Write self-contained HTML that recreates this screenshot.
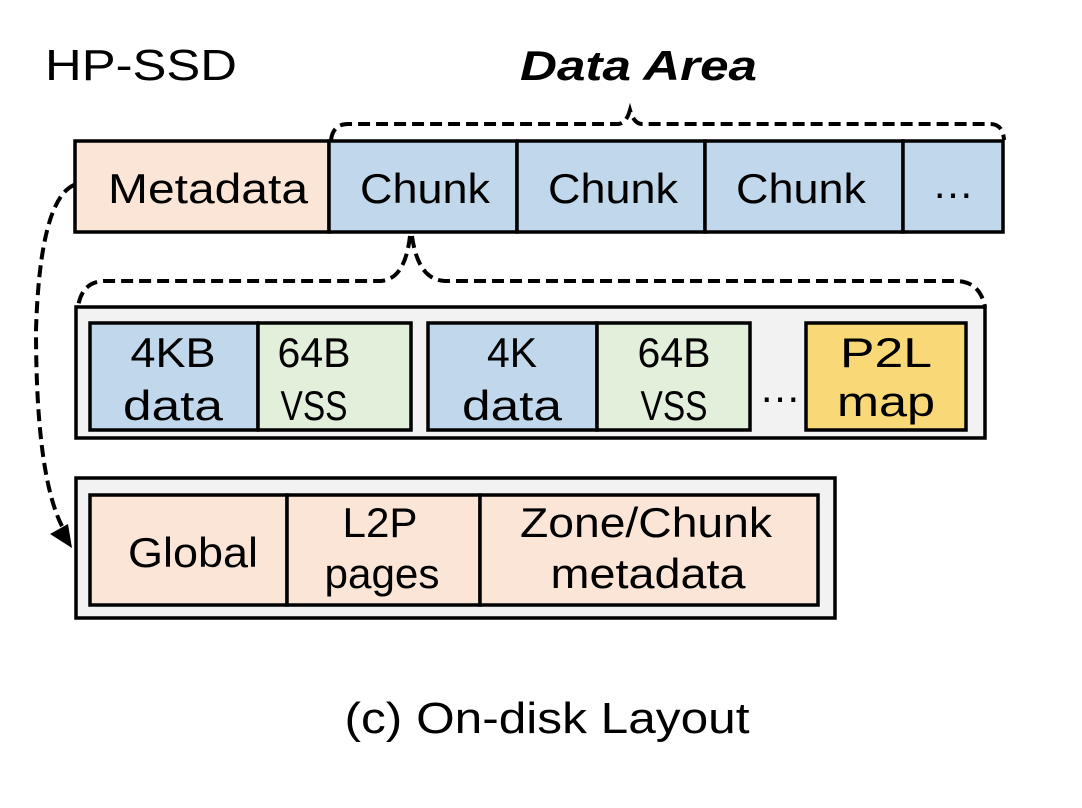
<!DOCTYPE html>
<html><head><style>
html,body{margin:0;padding:0;background:#fff;width:1082px;height:808px;overflow:hidden}
text{font-family:"Liberation Sans",sans-serif;fill:#000}
</style></head><body>
<svg width="1082" height="808" viewBox="0 0 1082 808" xmlns="http://www.w3.org/2000/svg">
<text x="45" y="80" font-size="44" textLength="192" lengthAdjust="spacingAndGlyphs">HP-SSD</text>
<text x="520" y="80" font-size="42" font-weight="bold" font-style="italic" textLength="237" lengthAdjust="spacingAndGlyphs">Data Area</text>

<g fill="none" stroke="#000" stroke-width="4" stroke-dasharray="12,6">
<path d="M331,140 Q333,124 348,124 L618,124 Q626,124 630,110 Q634,124 642,124 L990,124 Q1003,124 1004,140"/>
<path d="M410,236 Q405,280 380,281 L105,281 Q82,281 78,307"/>
<path d="M412,236 Q418,280 445,281 L955,281 Q980,281 985,307"/>
<path d="M74,185 Q40,200 36,330 Q36,480 64,530"/>
</g>
<polygon points="72,548 50,534 68,524" fill="#000"/>

<g stroke="#000" stroke-width="3.5">
<rect x="75" y="141" width="254" height="91" fill="#fbe5d6"/>
<rect x="329" y="141" width="188" height="91" fill="#c0d7ec"/>
<rect x="517" y="141" width="188" height="91" fill="#c0d7ec"/>
<rect x="705" y="141" width="198" height="91" fill="#c0d7ec"/>
<rect x="903" y="141" width="100" height="91" fill="#c0d7ec"/>

<rect x="76" y="307" width="909" height="131" fill="#f2f2f2"/>
<rect x="90" y="323" width="168" height="107" fill="#c0d7ec"/>
<rect x="258" y="323" width="153" height="107" fill="#e2efda"/>
<rect x="428" y="323" width="169" height="107" fill="#c0d7ec"/>
<rect x="597" y="323" width="153" height="107" fill="#e2efda"/>
<rect x="806" y="323" width="160" height="107" fill="#f9d877"/>

<rect x="76" y="478" width="759" height="140" fill="#f2f2f2"/>
<rect x="90" y="495" width="197" height="110" fill="#fbe5d6"/>
<rect x="287" y="495" width="193" height="110" fill="#fbe5d6"/>
<rect x="480" y="495" width="338" height="110" fill="#fbe5d6"/>
</g>

<g font-size="42" text-anchor="middle">
<text x="208" y="203" textLength="200" lengthAdjust="spacingAndGlyphs">Metadata</text>
<text x="425" y="203" textLength="130" lengthAdjust="spacingAndGlyphs">Chunk</text>
<text x="613" y="203" textLength="130" lengthAdjust="spacingAndGlyphs">Chunk</text>
<text x="801" y="203" textLength="130" lengthAdjust="spacingAndGlyphs">Chunk</text>
<text x="953" y="198">…</text>

<text x="173" y="367" textLength="85" lengthAdjust="spacingAndGlyphs">4KB</text>
<text x="173" y="420" textLength="100" lengthAdjust="spacingAndGlyphs">data</text>
<text x="314" y="367" textLength="73" lengthAdjust="spacingAndGlyphs">64B</text>
<text x="314" y="420" textLength="67" lengthAdjust="spacingAndGlyphs">VSS</text>
<text x="512" y="367" textLength="50" lengthAdjust="spacingAndGlyphs">4K</text>
<text x="512" y="420" textLength="100" lengthAdjust="spacingAndGlyphs">data</text>
<text x="674" y="367" textLength="73" lengthAdjust="spacingAndGlyphs">64B</text>
<text x="674" y="420" textLength="67" lengthAdjust="spacingAndGlyphs">VSS</text>
<text x="780" y="402">…</text>
<text x="886" y="367" textLength="92" lengthAdjust="spacingAndGlyphs">P2L</text>
<text x="886" y="416" textLength="98" lengthAdjust="spacingAndGlyphs">map</text>

<text x="193" y="567" textLength="130" lengthAdjust="spacingAndGlyphs">Global</text>
<text x="380" y="537" textLength="75" lengthAdjust="spacingAndGlyphs">L2P</text>
<text x="382" y="588" textLength="115" lengthAdjust="spacingAndGlyphs">pages</text>
<text x="646" y="537" textLength="252" lengthAdjust="spacingAndGlyphs">Zone/Chunk</text>
<text x="648" y="588" textLength="195" lengthAdjust="spacingAndGlyphs">metadata</text>

<text x="547" y="733" font-size="44" textLength="405" lengthAdjust="spacingAndGlyphs">(c) On-disk Layout</text>
</g>
</svg>
</body></html>
